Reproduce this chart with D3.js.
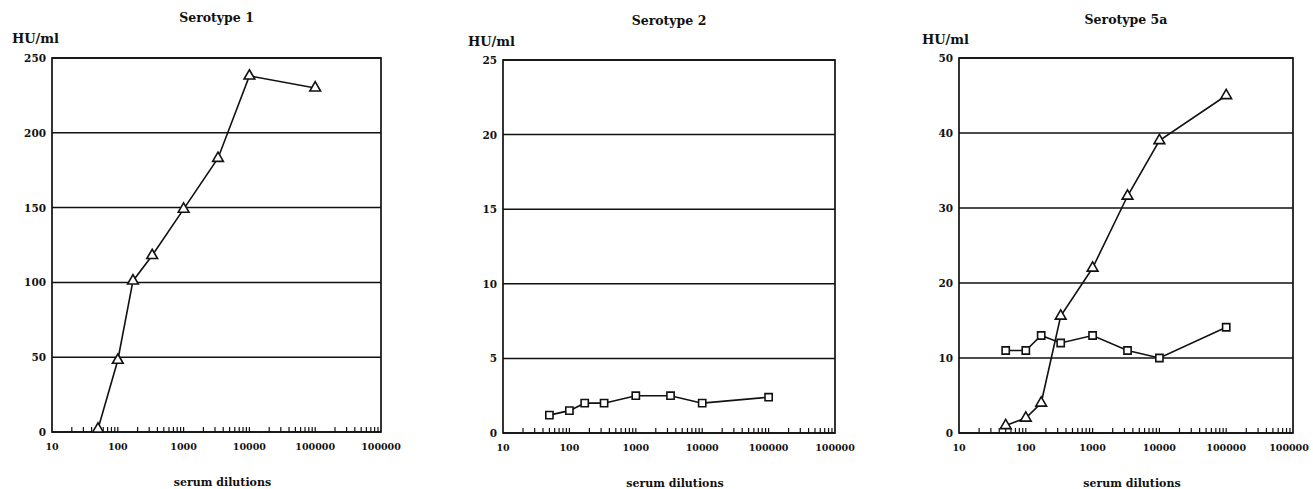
<!DOCTYPE html>
<html>
<head>
<meta charset="utf-8">
<script src="https://cdn.jsdelivr.net/npm/d3@7"></script>
<style>
  body { margin: 0; background: #fff; }
  text { font-family: "DejaVu Serif", serif; font-weight: bold; fill: #111; }
</style>
</head>
<body>
<div id="chart"></div>
<script>
// serum dilutions (x), shared by all panels
const dilutions = [50, 100, 170, 333, 1000, 3333, 10000, 100000]
const xTickValues = [10, 100, 1000, 10000, 100000, 1000000]
const xTickLabels = ['10', '100', '1000', '10000', '100000', '100000']

// HU/ml values
const sero1Triangles = [2, 48, 101, 118, 149, 183, 238, 230]
const sero2Squares = [1.2, 1.5, 2, 2, 2.5, 2.5, 2, 2.4]
const sero5aTriangles = [1, 2, 4, 15.6, 22, 31.6, 39, 45]
const sero5aSquares = [11, 11, 13, 12, 13, 11, 10, 14.1]

const panelTitles = ['Serotype 1', 'Serotype 2', 'Serotype 5a']
const yMaxes = [250, 25, 50]
const yTicks = [
  [0, 50, 100, 150, 200, 250],
  [0, 5, 10, 15, 20, 25],
  [0, 10, 20, 30, 40, 50]
]

const width = 1313, height = 489

const panels = [
  { left: 52, right: 381, top: 58, bottom: 432, title: panelTitles[0], yMax: yMaxes[0], ticks: yTicks[0],
    unitX: 12, titleY: 22, unitY: 43,
    series: [{ values: sero1Triangles, marker: 'tri' }] },
  { left: 503, right: 835, top: 60, bottom: 433, title: panelTitles[1], yMax: yMaxes[1], ticks: yTicks[1],
    unitX: 468, titleY: 25, unitY: 46,
    series: [{ values: sero2Squares, marker: 'sq' }] },
  { left: 959, right: 1293, top: 58, bottom: 433, title: panelTitles[2], yMax: yMaxes[2], ticks: yTicks[2],
    unitX: 922, titleY: 24, unitY: 44,
    series: [{ values: sero5aTriangles, marker: 'tri' }, { values: sero5aSquares, marker: 'sq' }] }
]

const svg = d3.select('#chart')
  .append('svg')
  .attr('width', width)
  .attr('height', height)

// minor ticks 20..90, 200..900, ... inside the plot
const minorTicks = []
for (let d = 10; d < 1000000; d *= 10) {
  for (let m = 2; m <= 10; m++) {
    if (d * m < 1000000) minorTicks.push(d * m)
  }
}

panels.forEach(function(p) {
  const x = d3.scaleLog()
    .domain([10, 1000000])
    .range([p.left, p.right])
  const y = d3.scaleLinear()
    .domain([0, p.yMax])
    .range([p.bottom, p.top])

  const g = svg.append('g')

  // gridlines
  g.selectAll('.grid')
    .data(p.ticks)
    .enter().append('line')
    .attr('x1', p.left).attr('x2', p.right)
    .attr('y1', function(d) { return y(d) })
    .attr('y2', function(d) { return y(d) })
    .attr('stroke', '#111')
    .attr('stroke-width', 1.5)

  // frame
  g.append('rect')
    .attr('x', p.left).attr('y', p.top)
    .attr('width', p.right - p.left)
    .attr('height', p.bottom - p.top)
    .attr('fill', 'none')
    .attr('stroke', '#111')
    .attr('stroke-width', 1.7)

  // x minor ticks
  g.selectAll('.mtick')
    .data(minorTicks)
    .enter().append('line')
    .attr('x1', function(d) { return x(d) })
    .attr('x2', function(d) { return x(d) })
    .attr('y1', p.bottom)
    .attr('y2', p.bottom - 5)
    .attr('stroke', '#111')
    .attr('stroke-width', 1.2)

  // y labels
  g.selectAll('.ylab')
    .data(p.ticks)
    .enter().append('text')
    .attr('x', p.left - 6)
    .attr('y', function(d) { return y(d) + 4 })
    .attr('text-anchor', 'end')
    .style('font-size', '10.5px')
    .text(function(d) { return d })

  // x labels (last one kept inside the window)
  g.selectAll('.xlab')
    .data(xTickValues)
    .enter().append('text')
    .attr('x', function(d) { return Math.min(x(d), width - 24) })
    .attr('y', p.bottom + 18)
    .attr('text-anchor', 'middle')
    .style('font-size', '9.5px')
    .text(function(d, i) { return xTickLabels[i] })

  g.append('text')
    .attr('x', (p.left + p.right) / 2 + 6)
    .attr('y', p.bottom + 54)
    .attr('text-anchor', 'middle')
    .style('font-size', '11px')
    .text('serum dilutions')

  g.append('text')
    .attr('x', (p.left + p.right) / 2)
    .attr('y', p.titleY)
    .attr('text-anchor', 'middle')
    .style('font-size', '12.5px')
    .text(p.title)

  g.append('text')
    .attr('x', p.unitX)
    .attr('y', p.unitY)
    .style('font-size', '13px')
    .text('HU/ml')

  const line = d3.line()
    .x(function(d, i) { return x(dilutions[i]) })
    .y(function(d) { return y(d) })

  p.series.forEach(function(s) {
    g.append('path')
      .datum(s.values)
      .attr('d', line)
      .attr('fill', 'none')
      .attr('stroke', '#111')
      .attr('stroke-width', 1.6)

    const sym = s.marker === 'tri'
      ? d3.symbol().type(d3.symbolTriangle).size(50)
      : d3.symbol().type(d3.symbolSquare).size(52)

    g.selectAll('.m')
      .data(s.values)
      .enter().append('path')
      .attr('d', sym)
      .attr('transform', function(d, i) {
        return 'translate(' + x(dilutions[i]) + ',' + y(d) + ')'
      })
      .attr('fill', '#fff')
      .attr('stroke', '#111')
      .attr('stroke-width', 1.6)
  })
})
</script>
</body>
</html>
